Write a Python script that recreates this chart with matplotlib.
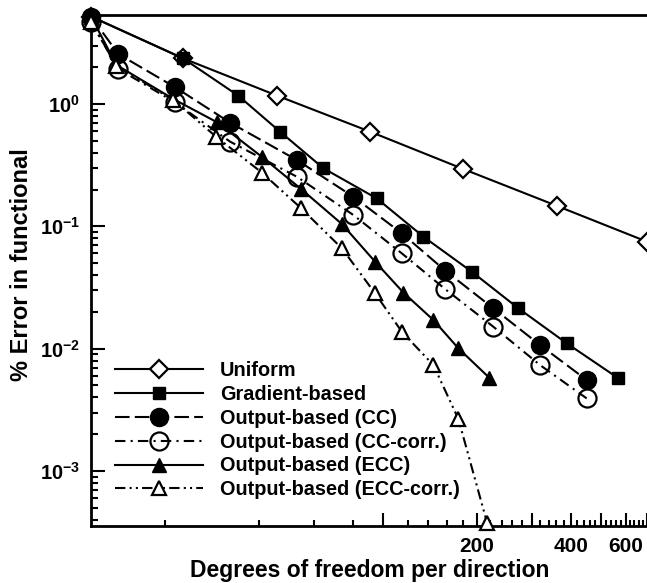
#!/usr/bin/env python3

"""
Error in functional vs. degrees of freedom per direction
(log-log convergence plot, six refinement strategies)
"""

import numpy as np
import matplotlib

matplotlib.use("Agg")

import matplotlib.pyplot as plt
from matplotlib.ticker import FixedLocator, FixedFormatter, NullFormatter

# ============================================================
# Data
# ============================================================

uniform_dof = [11.6, 22.9, 45.8, 91.0, 181.0, 361.0, 703.0]
uniform_err = [5.19, 2.36, 1.17, 0.594, 0.294, 0.147, 0.0748]

gradient_dof = [11.6, 22.9, 34.4, 46.8, 64.5, 95.6, 134.9, 192.8, 271.8, 388.6, 568.8]
gradient_err = [5.19, 2.36, 1.169, 0.594, 0.298, 0.169, 0.0822, 0.0425, 0.02136, 0.01105, 0.00572]

cc_dof = [11.6, 14.2, 21.6, 32.4, 53.0, 80.4, 115.0, 158.3, 226.0, 319.0, 450.0]
cc_err = [5.19, 2.56, 1.369, 0.703, 0.3484, 0.1746, 0.0877, 0.0435, 0.02136, 0.0107, 0.00554]

cc_corr_dof = [11.6, 14.2, 21.6, 32.4, 53.0, 80.4, 115.0, 158.3, 226.0, 319.0, 450.0]
cc_corr_err = [4.7, 1.932, 1.029, 0.4918, 0.2544, 0.1238, 0.0601, 0.0307, 0.0151, 0.00734, 0.00392]

ecc_dof = [11.6, 14.0, 21.3, 29.5, 40.9, 54.7, 73.9, 94.4, 116.3, 145.2, 174.6, 219.0]
ecc_err = [5.19, 2.084, 1.099, 0.706, 0.3707, 0.2018, 0.1044, 0.0514, 0.02875, 0.01713, 0.01006, 0.0058]

ecc_corr_dof = [11.6, 14.0, 21.3, 29.2, 40.9, 54.7, 73.9, 94.4, 115.2, 145.2, 174.6, 216.0]
ecc_corr_err = [4.68, 2.045, 1.078, 0.540, 0.2754, 0.1404, 0.0661, 0.02833, 0.01367, 0.00734, 0.002657, 0.000373]

series_labels = [
    "Uniform",
    "Gradient-based",
    "Output-based (CC)",
    "Output-based (CC-corr.)",
    "Output-based (ECC)",
    "Output-based (ECC-corr.)",
]

x_major = [100, 200, 300, 400, 500, 600, 700]
x_major_labels = ["", "200", "", "400", "", "600", ""]
x_minor = [20, 40, 60, 80] + [v for v in range(120, 1000, 20) if v % 100 != 0]

y_major = [1e-3, 1e-2, 1e-1, 1e0]
y_major_labels = [r"$10^{-3}$", r"$10^{-2}$", r"$10^{-1}$", r"$10^{0}$"]

# ============================================================
# Style
# ============================================================

plt.rcParams["font.family"] = ["Liberation Sans", "DejaVu Sans"]
plt.rcParams["font.weight"] = "bold"
plt.rcParams["mathtext.fontset"] = "custom"
plt.rcParams["mathtext.rm"] = "Liberation Sans:bold"
plt.rcParams["mathtext.it"] = "Liberation Sans:bold"
plt.rcParams["mathtext.bf"] = "Liberation Sans:bold"
plt.rcParams["mathtext.default"] = "rm"

W, H = 647, 583
fig = plt.figure(figsize=(W / 100, H / 100), dpi=100)

# axes box in pixels: left spine x=91, top y=15, bottom y=526
# (the right part runs past the picture edge, as in the reference)
x_lo, x_hi = 11.6, 1000.0
px_per_decade = 312.0
ax_w = px_per_decade * np.log10(x_hi / x_lo)
ax_h = 526 - 15
ax = fig.add_axes([91 / W, 1 - 526 / H, ax_w / W, ax_h / H])

ax.set_xscale("log")
ax.set_yscale("log")
ax.set_xlim(x_lo, x_hi)
ax.set_ylim(3.55e-4, 5.34)

LW = 1.5
common = dict(color="black", linewidth=LW, clip_on=False)

ax.plot(uniform_dof, uniform_err, linestyle="-", marker="D", markersize=9,
        markerfacecolor="white", markeredgecolor="black", markeredgewidth=1.6,
        label=series_labels[0], zorder=3, **common)

ax.plot(gradient_dof, gradient_err, linestyle="-", marker="s", markersize=9,
        markerfacecolor="black", markeredgecolor="black",
        label=series_labels[1], zorder=3, **common)

ax.plot(cc_dof, cc_err, linestyle=(0, (7, 2.5)), marker="o", markersize=13,
        markerfacecolor="black", markeredgecolor="black",
        label=series_labels[2], zorder=4, **common)

ax.plot(cc_corr_dof, cc_corr_err, linestyle=(0, (5, 2.5, 1, 2.5)), marker="o",
        markersize=13, markerfacecolor="none", markeredgecolor="black",
        markeredgewidth=1.6, label=series_labels[3], zorder=4, **common)

ax.plot(ecc_dof, ecc_err, linestyle="-", marker="^", markersize=10.5,
        markerfacecolor="black", markeredgecolor="black",
        label=series_labels[4], zorder=5, **common)

ax.plot(ecc_corr_dof, ecc_corr_err, linestyle=(0, (5, 2, 1, 2, 1, 2)), marker="^",
        markersize=10.5, markerfacecolor="white", markeredgecolor="black",
        markeredgewidth=1.6, label=series_labels[5], zorder=5, **common)

# ============================================================
# Axes, ticks
# ============================================================

for side in ["left", "bottom", "top"]:
    ax.spines[side].set_linewidth(2.0)
ax.spines["right"].set_visible(False)

ax.xaxis.set_major_locator(FixedLocator(x_major))
ax.xaxis.set_major_formatter(FixedFormatter(x_major_labels))
ax.xaxis.set_minor_locator(FixedLocator(x_minor))
ax.xaxis.set_minor_formatter(NullFormatter())

ax.yaxis.set_major_locator(FixedLocator(y_major))
ax.yaxis.set_major_formatter(FixedFormatter(y_major_labels))
ax.yaxis.set_minor_locator(FixedLocator(
    [m * 10.0 ** e for e in range(-4, 1) for m in range(2, 10)]))
ax.yaxis.set_minor_formatter(NullFormatter())

ax.tick_params(axis="x", which="major", direction="in", length=9.5, width=1.5,
               labelsize=15, pad=8, top=False)
ax.tick_params(axis="x", which="minor", direction="in", length=4, width=1.5, top=False)
ax.tick_params(axis="y", which="major", direction="in", length=10, width=1.5,
               labelsize=14.5, pad=8, right=False)
ax.tick_params(axis="y", which="minor", direction="in", length=5, width=1.5, right=False)

ax.set_xlabel("Degrees of freedom per direction", fontsize=16.5, fontweight="bold")
ax.xaxis.set_label_coords((370 - 91) / ax_w, -(559 - 526) / ax_h, transform=ax.transAxes)

ax.set_ylabel("% Error in functional", fontsize=17, fontweight="bold")
ax.yaxis.set_label_coords(-(91 - 33) / ax_w, (526 - 265) / ax_h, transform=ax.transAxes)

# ============================================================
# Legend
# ============================================================

leg = ax.legend(
    loc="upper left",
    bbox_to_anchor=(115 / W, 1 - 361 / H),
    bbox_transform=fig.transFigure,
    frameon=False,
    fontsize=14.3,
    handlelength=4.43,
    handletextpad=0.86,
    labelspacing=0.245,
    borderpad=0,
    borderaxespad=0,
)

fig.savefig("out.png", dpi=100)
